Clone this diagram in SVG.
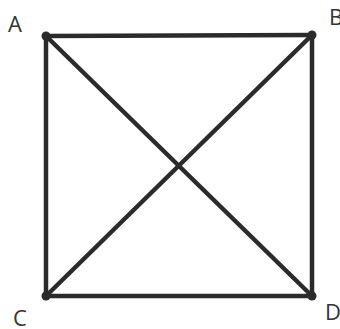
<svg xmlns="http://www.w3.org/2000/svg" width="340" height="329" viewBox="0 0 340 329">
<style>
.e{stroke:#2b2b2b;stroke-width:4.5;stroke-linecap:round;fill:none}
.v{fill:#2b2b2b}
.l{font-family:"Open Sans","Liberation Sans",sans-serif;font-size:22px;fill:#333}
</style>
<rect width="340" height="329" fill="#fff"/>
<g id="connectors">
<line class="e" x1="46" y1="36" x2="312" y2="35"/>
<line class="e" x1="46" y1="36" x2="46" y2="296"/>
<line class="e" x1="312" y1="35" x2="312" y2="296"/>
<line class="e" x1="46" y1="296" x2="312" y2="296"/>
<line class="e" x1="46" y1="36" x2="312" y2="296"/>
<line class="e" x1="312" y1="35" x2="46" y2="296"/>
</g>
<g id="A"><circle class="v" cx="46" cy="36" r="4.5"/><text class="l" x="8" y="32">A</text></g>
<g id="B"><circle class="v" cx="312" cy="35" r="4.5"/><text class="l" x="329" y="25">B</text></g>
<g id="C"><circle class="v" cx="46" cy="296" r="4.5"/><text class="l" x="13" y="326">C</text></g>
<g id="D"><circle class="v" cx="312" cy="296" r="4.5"/><text class="l" x="325" y="320">D</text></g>
</svg>
